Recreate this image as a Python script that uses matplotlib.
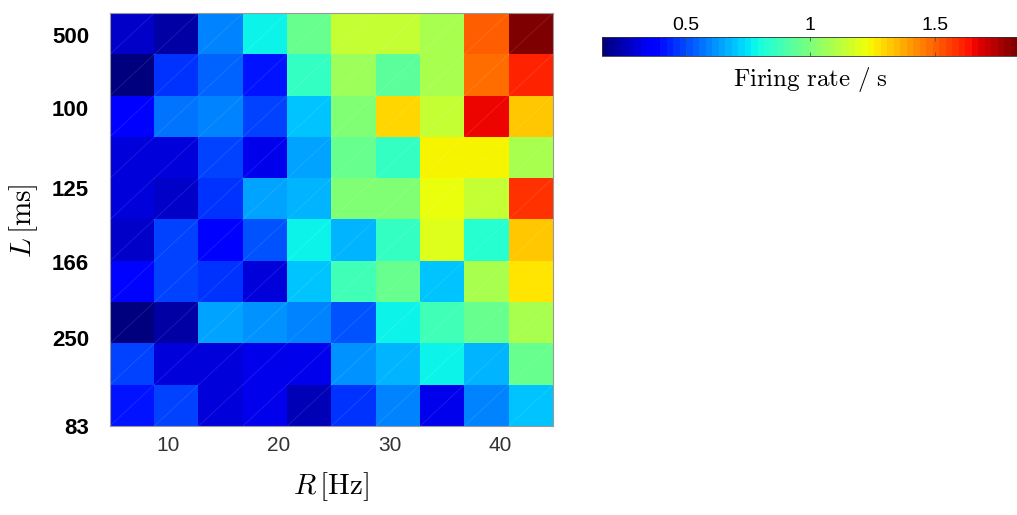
import matplotlib
matplotlib.use("Agg")
import matplotlib.pyplot as plt
import numpy as np

plt.rcParams['mathtext.fontset'] = 'cm'

# firing rate per cell, rows top -> bottom, columns left -> right
rates = [
    [0.29, 0.22, 0.60, 0.77, 0.95, 1.13, 1.15, 1.10, 1.50, 1.81],
    [0.17, 0.46, 0.55, 0.42, 0.85, 1.05, 0.94, 1.10, 1.48, 1.62],
    [0.35, 0.57, 0.60, 0.48, 0.70, 1.01, 1.29, 1.14, 1.67, 1.32],
    [0.31, 0.31, 0.48, 0.33, 0.64, 0.96, 0.86, 1.24, 1.24, 1.08],
    [0.31, 0.28, 0.46, 0.64, 0.68, 1.00, 1.01, 1.23, 1.14, 1.58],
    [0.28, 0.48, 0.35, 0.52, 0.77, 0.68, 0.86, 1.18, 0.84, 1.33],
    [0.38, 0.48, 0.46, 0.30, 0.70, 0.89, 0.96, 0.70, 1.08, 1.26],
    [0.17, 0.22, 0.64, 0.62, 0.60, 0.52, 0.77, 0.87, 0.96, 1.08],
    [0.48, 0.30, 0.30, 0.34, 0.34, 0.62, 0.68, 0.77, 0.66, 0.96],
    [0.41, 0.50, 0.31, 0.34, 0.26, 0.46, 0.60, 0.34, 0.59, 0.70],
]
x_ticks = [10, 20, 30, 40]
y_tick_pos = [0.53, 2.3, 4.24, 6.03, 7.87, 10.0]
y_tick_labels = ['500', '100', '125', '166', '250', '83']
cbar_ticks = [0.5, 1, 1.5]
cbar_labels = ['0.5', '1', '1.5']
vmin, vmax = 0.163, 1.83
r_lo, r_hi = 4.75, 44.75

data = np.array(rates)
nrow, ncol = data.shape

fig = plt.figure(figsize=(10.17, 5.15), dpi=100)
ax = fig.add_axes([110/1017, 1 - 426/515, 443/1017, 413/515])
cmap = plt.get_cmap('jet', 64)
im = ax.imshow(data, cmap=cmap, vmin=vmin, vmax=vmax, aspect='auto',
               extent=[r_lo, r_hi, nrow, 0], interpolation='nearest')

# faint diagonal streaks seen in each cell
cw = (r_hi - r_lo) / ncol
for i in range(nrow):
    for j in range(ncol):
        ax.plot([r_lo + j*cw, r_lo + (j+1)*cw], [i+1, i], color='white',
                lw=0.6, alpha=0.12)
ax.set_xlim(r_lo, r_hi)
ax.set_ylim(nrow, 0)

ax.set_xticks(x_ticks)
ax.set_xticklabels([str(v) for v in x_ticks], fontsize=15, color='#333333',
                   family='Liberation Sans')
ax.set_yticks(y_tick_pos)
ax.set_yticklabels(y_tick_labels, fontsize=16, fontweight='bold',
                   family='Liberation Sans')
ax.tick_params(axis='x', length=0, pad=7)
ax.tick_params(axis='y', length=0, pad=15)
for s in ax.spines.values():
    s.set_color('#999999')
    s.set_linewidth(0.8)

fig.text(331/1017, 1 - 487/515, r'$R\,[\mathrm{Hz}]$', fontsize=21,
         ha='center', va='center')
fig.text(24/1017, 1 - 221/515, r'$L\,[\mathrm{ms}]$', fontsize=21,
         ha='center', va='center', rotation=90)

cax = fig.add_axes([602/1017, 1 - 56/515, 415/1017, 19/515])
cb = fig.colorbar(im, cax=cax, orientation='horizontal')
cb.set_ticks(cbar_ticks)
cb.set_ticklabels(cbar_labels)
cax.xaxis.set_ticks_position('top')
cax.tick_params(axis='x', direction='in', length=3, width=0.6, color='#555555',
                labelsize=14, pad=2, bottom=True, top=True)
for lab in cax.get_xticklabels():
    lab.set_family('Liberation Sans')
cb.outline.set_linewidth(0.6)
cb.outline.set_edgecolor('#333333')
fig.text(810/1017, 1 - 80/515, r'$\mathrm{Firing\ rate\ /\ s}$', fontsize=18,
         ha='center', va='center')

fig.savefig('out.png', dpi=100)
